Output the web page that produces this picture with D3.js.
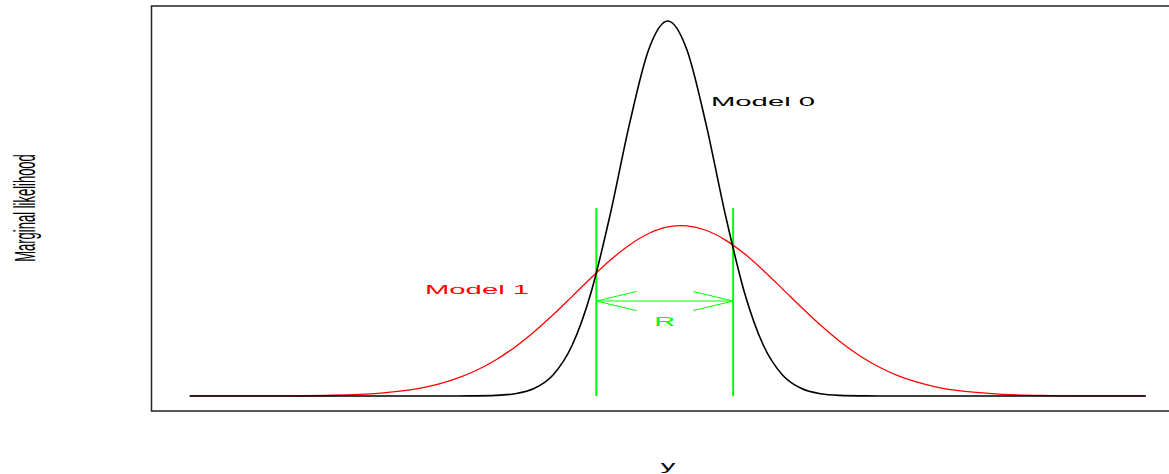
<!DOCTYPE html>
<html>
<head>
<meta charset="utf-8">
<script src="https://cdn.jsdelivr.net/npm/d3@7"></script>
<style>
  body { margin: 0; background: white; }
  text { font-family: "Liberation Sans", Arial, sans-serif; }
</style>
</head>
<body>
<script>
let w = 1169;
let h = 474;

// y grid
let xs = [-5, -4.5, -4, -3.5, -3, -2.8, -2.6, -2.4, -2.2, -2, -1.8, -1.6, -1.4, -1.2, -1, -0.8, -0.6, -0.4, -0.2, 0,
  0.2, 0.4, 0.6, 0.8, 1, 1.2, 1.4, 1.6, 1.8, 2, 2.2, 2.4, 2.6, 2.8, 3, 3.5, 4, 4.5, 5];

// marginal likelihood, model 0 (narrow, black)
let model0 = [0, 0, 0, 0, 0, 0, 0, 0.00001, 0.00005, 0.00027, 0.00122, 0.00477, 0.0158, 0.0448, 0.108, 0.222, 0.388, 0.579, 0.737, 0.798,
  0.737, 0.579, 0.388, 0.222, 0.108, 0.0448, 0.0158, 0.00477, 0.00122, 0.00027, 0.00005, 0.00001, 0, 0, 0, 0, 0, 0, 0];

// marginal likelihood, model 1 (wide, red)
let model1 = [0.00001, 0.00005, 0.0003, 0.0015, 0.0062, 0.0102, 0.0163, 0.0252, 0.0378, 0.0547, 0.0766, 0.1038, 0.1361, 0.1727, 0.212, 0.2518, 0.2893, 0.3215, 0.3458, 0.3598,
  0.3622, 0.3527, 0.3323, 0.303, 0.2672, 0.228, 0.1882, 0.1503, 0.1161, 0.0868, 0.0628, 0.044, 0.0298, 0.0195, 0.0123, 0.0034, 0.0008, 0.00014, 0.00002];

// the region R where model 0 beats model 1
let rBounds = [-0.747, 0.684];
let rTop = 0.40;
let arrowLevel = 0.202;

let green = "#00ff00";
let stretch = 2.25; // the text in the picture is wider than tall

let viz = d3.select("body")
  .append("svg")
    .attr("width", w)
    .attr("height", h)
    .style("background-color", "white")
;

let x = d3.scaleLinear().domain([-5.4, 5.4]).range([151.5, 1184]);
let y = d3.scaleLinear().domain([-0.032, 0.83]).range([411, 6]);

let data = xs.map(function(d, i){
  return {x: d, m0: model0[i], m1: model1[i]};
});

let line0 = d3.line()
  .x(function(d){ return x(d.x); })
  .y(function(d){ return y(d.m0); })
  .curve(d3.curveMonotoneX);

let line1 = d3.line()
  .x(function(d){ return x(d.x); })
  .y(function(d){ return y(d.m1); })
  .curve(d3.curveCatmullRom.alpha(0.5));

// plot box
viz.append("rect")
  .attr("x", x(-5.4))
  .attr("y", y(0.83))
  .attr("width", x(5.4) - x(-5.4))
  .attr("height", y(-0.032) - y(0.83))
  .style("fill", "none")
  .style("stroke", "#222")
  .style("stroke-width", 1.5)
;

// green lines bounding R
viz.selectAll(".rline").data(rBounds).enter()
  .append("line")
    .attr("class", "rline")
    .attr("x1", function(d){ return x(d); })
    .attr("x2", function(d){ return x(d); })
    .attr("y1", y(0))
    .attr("y2", y(rTop))
    .style("stroke", green)
    .style("stroke-width", 2)
;

// double arrow
let ax1 = x(rBounds[0]);
let ax2 = x(rBounds[1]);
let ay = y(arrowLevel);
viz.append("line")
  .attr("x1", ax1).attr("y1", ay)
  .attr("x2", ax2).attr("y2", ay)
  .style("stroke", "#80ff80")
  .style("stroke-width", 2)
;
let heads = [
  [ax1, ay, ax1 + 40, ay - 9.5], [ax1, ay, ax1 + 40, ay + 9.5],
  [ax2, ay, ax2 - 40, ay - 9.5], [ax2, ay, ax2 - 40, ay + 9.5]
];
viz.selectAll(".head").data(heads).enter()
  .append("line")
    .attr("class", "head")
    .attr("x1", function(d){ return d[0]; })
    .attr("y1", function(d){ return d[1]; })
    .attr("x2", function(d){ return d[2]; })
    .attr("y2", function(d){ return d[3]; })
    .style("stroke", green)
    .style("stroke-width", 1)
;

// curves
viz.append("path")
  .datum(data)
  .attr("d", line1)
  .style("fill", "none")
  .style("stroke", "red")
  .style("stroke-width", 1.3)
;
viz.append("path")
  .datum(data)
  .attr("d", line0)
  .style("fill", "none")
  .style("stroke", "black")
  .style("stroke-width", 1.6)
;

// labels
function label(txt, px, py, col, anchor, rotate){
  viz.append("text")
    .text(txt)
    .attr("font-size", 13)
    .attr("fill", col)
    .attr("text-anchor", anchor)
    .attr("transform", "translate(" + px + "," + py + ") scale(" + stretch + ",1)" + (rotate ? " rotate(-90)" : ""))
  ;
}

label("Model 0", 711, 106, "black", "start", false);
label("Model 1", 425, 294, "red", "start", false);
label("R", (ax1 + ax2) / 2, 326, green, "middle", false);
label("y", 668, 470, "black", "middle", false);
label("Marginal likelihood", 35, 208, "black", "middle", true);
</script>
</body>
</html>
